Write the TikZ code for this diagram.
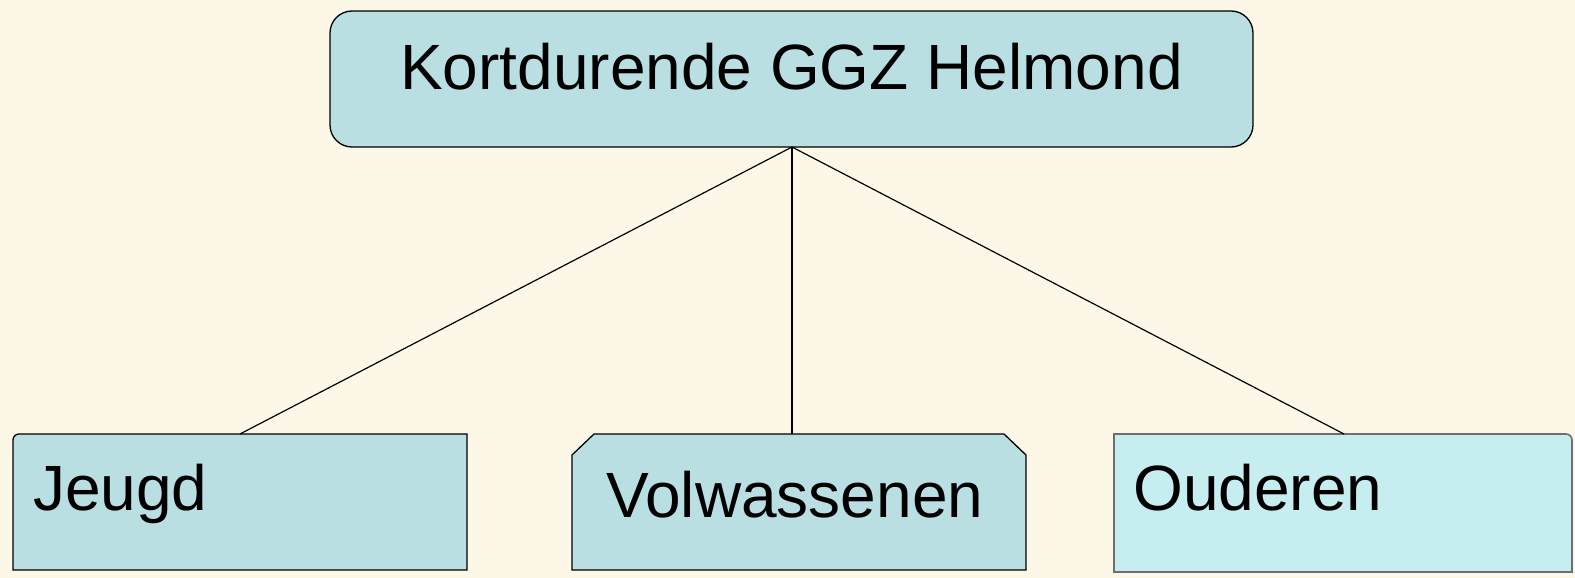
\documentclass[tikz,border=0pt]{standalone}
\usepackage{fontspec}
\setmainfont{Liberation Sans}
\definecolor{bgcream}{HTML}{FDF7E7}
\definecolor{boxfill}{HTML}{B9DFE3}
\definecolor{boxfilllight}{HTML}{C6EEF0}
\definecolor{edgegray}{HTML}{6E6E6E}
\tikzset{
  x=1pt, y=1pt,
  box/.style={draw=black, line width=1.3pt, fill=boxfill},
  boxlight/.style={draw=edgegray, line width=1.6pt, fill=boxfilllight},
  label/.style={inner sep=0pt, font=\fontsize{64}{64}\selectfont},
  link/.style={draw=black, line width=1.2pt},
}
\begin{document}
\begin{tikzpicture}
  % page
  \fill[bgcream] (0,0) rectangle (1575,-578);
  \useasboundingbox (0,0) rectangle (1575,-578);

  % top box
  \draw[box, rounded corners=22pt] (330,-11) rectangle (1253,-147);
  \node[label, anchor=base] (toptext) at (791.5,-90) {Kortdurende GGZ Helmond};
  \coordinate (top) at (792,-147);

  % Jeugd
  \draw[box] (13,-570) -- (13,-440) arc[start angle=180, end angle=90, radius=6]
    -- (467,-434) -- (467,-570) -- cycle;
  \node[label, anchor=base west] (jeugdtext) at (33,-510) {Jeugd};
  \coordinate (jeugd) at (240,-434);

  % Volwassenen
  \draw[box] (572,-570) -- (572,-455) -- (594,-434) -- (1004,-434)
    -- (1026,-455) -- (1026,-570) -- cycle;
  \node[label, anchor=base west] (voltext) at (606,-517) {Volwassenen};
  \coordinate (vol) at (792,-434);

  % Ouderen
  \draw[boxlight] (1114,-572) -- (1114,-434) -- (1566,-434)
    arc[start angle=90, end angle=0, radius=6] -- (1572,-572) -- cycle;
  \node[label, anchor=base west] (oudtext) at (1133,-510) {Ouderen};
  \coordinate (oud) at (1344,-434);

  % connectors
  \draw[link] (top) -- (jeugd);
  \draw[link] (top) -- (vol);
  \draw[link] (top) -- (oud);
\end{tikzpicture}
\end{document}
